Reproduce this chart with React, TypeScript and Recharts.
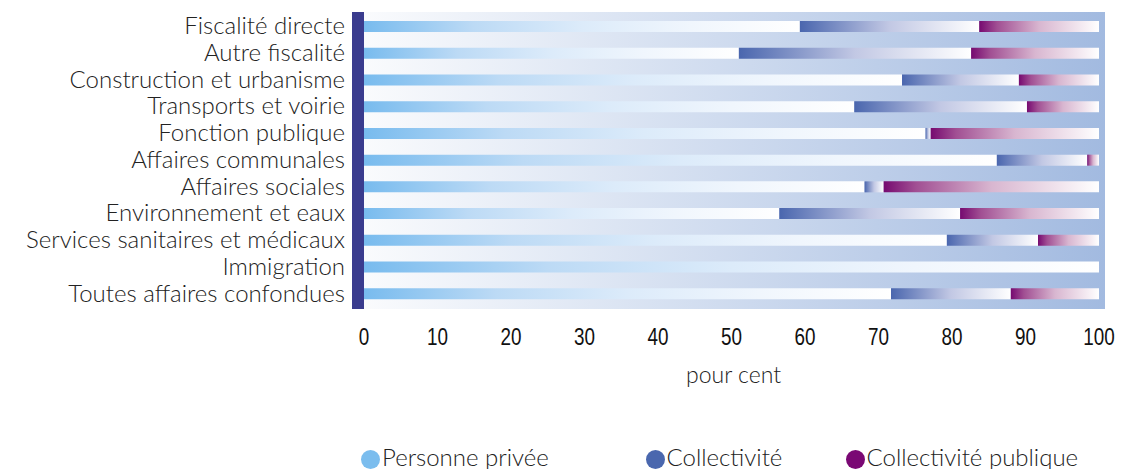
import { BarChart, Bar, XAxis, YAxis, ReferenceArea } from "recharts";

const CATEGORIES = [
  "Fiscalité directe",
  "Autre fiscalité",
  "Construction et urbanisme",
  "Transports et voirie",
  "Fonction publique",
  "Affaires communales",
  "Affaires sociales",
  "Environnement et eaux",
  "Services sanitaires et médicaux",
  "Immigration",
  "Toutes affaires confondues",
];

const PERSONNE_PRIVEE = [59.3, 51.0, 73.2, 66.7, 76.4, 86.1, 68.1, 56.5, 79.3, 100, 71.7];
const COLLECTIVITE = [24.4, 31.6, 15.9, 23.5, 0.7, 12.3, 2.6, 24.6, 12.4, 0, 16.3];
const COLLECTIVITE_PUBLIQUE = [16.3, 17.4, 10.9, 9.8, 22.9, 1.6, 29.3, 18.9, 8.3, 0, 12.0];

const X_TICKS = [0, 10, 20, 30, 40, 50, 60, 70, 80, 90, 100];
const SERIES_NAMES = ["Personne privée", "Collectivité", "Collectivité publique"];
const SERIES_COLORS = ["#7bbdee", "#4a67ae", "#7a0874"];

const data = CATEGORIES.map((name, i) => ({
  name,
  prive: PERSONNE_PRIVEE[i],
  coll: COLLECTIVITE[i],
  pub: COLLECTIVITE_PUBLIQUE[i],
}));

const LABEL_FONT = "Lato, 'Open Sans', sans-serif";

const YTick = (props: any) => {
  const { x, y, payload } = props;
  return (
    <text
      x={x}
      y={y}
      dy="0.33em"
      textAnchor="end"
      fontFamily={LABEL_FONT}
      fontWeight={300}
      fontSize={24}
      fill="#222"
    >
      {payload.value}
    </text>
  );
};

const XTick = (props: any) => {
  const { x, y, payload } = props;
  return (
    <text
      transform={`translate(${x},${y}) scale(0.82,1)`}
      dy="0.71em"
      textAnchor="middle"
      fontFamily="'Liberation Sans', Arial, sans-serif"
      fontSize={23}
      fill="#111"
    >
      {payload.value}
    </text>
  );
};

// stretch the backdrop a little beyond the category bands, like the original
const Backdrop = (fill: string) => (p: any) =>
  <rect x={p.x} y={p.y - 1} width={p.width} height={p.height + 3} fill={fill} />;

export default function App() {
  return (
    <div style={{ position: "absolute", left: 0, top: 0, width: 1147, height: 469, background: "#fff" }}>
      <BarChart
        width={1147}
        height={469}
        data={data}
        layout="vertical"
        barSize={11}
        margin={{ top: 13, right: 42, bottom: 82, left: 0 }}
      >
        <defs>
          <linearGradient id="bgGrad" x1="0" y1="0" x2="1" y2="0">
            <stop offset="0" stopColor="#fafbfd" />
            <stop offset="1" stopColor="#a2bae0" />
          </linearGradient>
          <linearGradient id="gPrive" x1="0" y1="0" x2="1" y2="0">
            <stop offset="0" stopColor="#78bbee" />
            <stop offset="0.25" stopColor="#bcdaf5" />
            <stop offset="0.5" stopColor="#dcebfa" />
            <stop offset="0.75" stopColor="#f0f6fd" />
            <stop offset="1" stopColor="#ffffff" />
          </linearGradient>
          <linearGradient id="gColl" x1="0" y1="0" x2="1" y2="0">
            <stop offset="0" stopColor="#4a66ae" />
            <stop offset="0.5" stopColor="#c2c8e4" />
            <stop offset="1" stopColor="#ffffff" />
          </linearGradient>
          <linearGradient id="gPub" x1="0" y1="0" x2="1" y2="0">
            <stop offset="0" stopColor="#760a70" />
            <stop offset="0.15" stopColor="#a14f93" />
            <stop offset="0.5" stopColor="#d8b6d0" />
            <stop offset="1" stopColor="#ffffff" />
          </linearGradient>
        </defs>
        <XAxis
          type="number"
          domain={[-1.633, 100.816]}
          allowDataOverflow
          ticks={X_TICKS}
          axisLine={false}
          tickLine={false}
          tickSize={0}
          tickMargin={22}
          tick={<XTick />}
          height={80}
          label={{
            value: "pour cent",
            position: "insideBottom",
            offset: 4,
            dx: 5,
            fill: "#222",
            fontSize: 23,
            fontWeight: 300,
            fontFamily: LABEL_FONT,
          }}
        />
        <YAxis
          type="category"
          dataKey="name"
          width={352}
          axisLine={false}
          tickLine={false}
          tickSize={0}
          tickMargin={7}
          interval={0}
          tick={<YTick />}
        />
        <ReferenceArea x1={0} x2={100.816} shape={Backdrop("url(#bgGrad)")} />
        <ReferenceArea x1={-1.633} x2={0} shape={Backdrop("#3a3c8e")} />
        <Bar dataKey="prive" name={SERIES_NAMES[0]} stackId="a" fill="url(#gPrive)" isAnimationActive={false} />
        <Bar dataKey="coll" name={SERIES_NAMES[1]} stackId="a" fill="url(#gColl)" isAnimationActive={false} />
        <Bar dataKey="pub" name={SERIES_NAMES[2]} stackId="a" fill="url(#gPub)" isAnimationActive={false} />
      </BarChart>
      {SERIES_NAMES.map((name, i) => {
        const left = [361, 645.5, 845.5][i];
        return (
          <div key={name}>
            <div
              style={{
                position: "absolute",
                left,
                top: 449.5,
                width: 19,
                height: 19,
                borderRadius: "50%",
                background: SERIES_COLORS[i],
              }}
            />
            <span
              style={{
                position: "absolute",
                left: left + 21,
                top: 444.6,
                lineHeight: "23px",
                fontSize: 24,
                fontWeight: 300,
                fontFamily: LABEL_FONT,
                color: "#222",
                whiteSpace: "nowrap",
              }}
            >
              {name}
            </span>
          </div>
        );
      })}
    </div>
  );
}
